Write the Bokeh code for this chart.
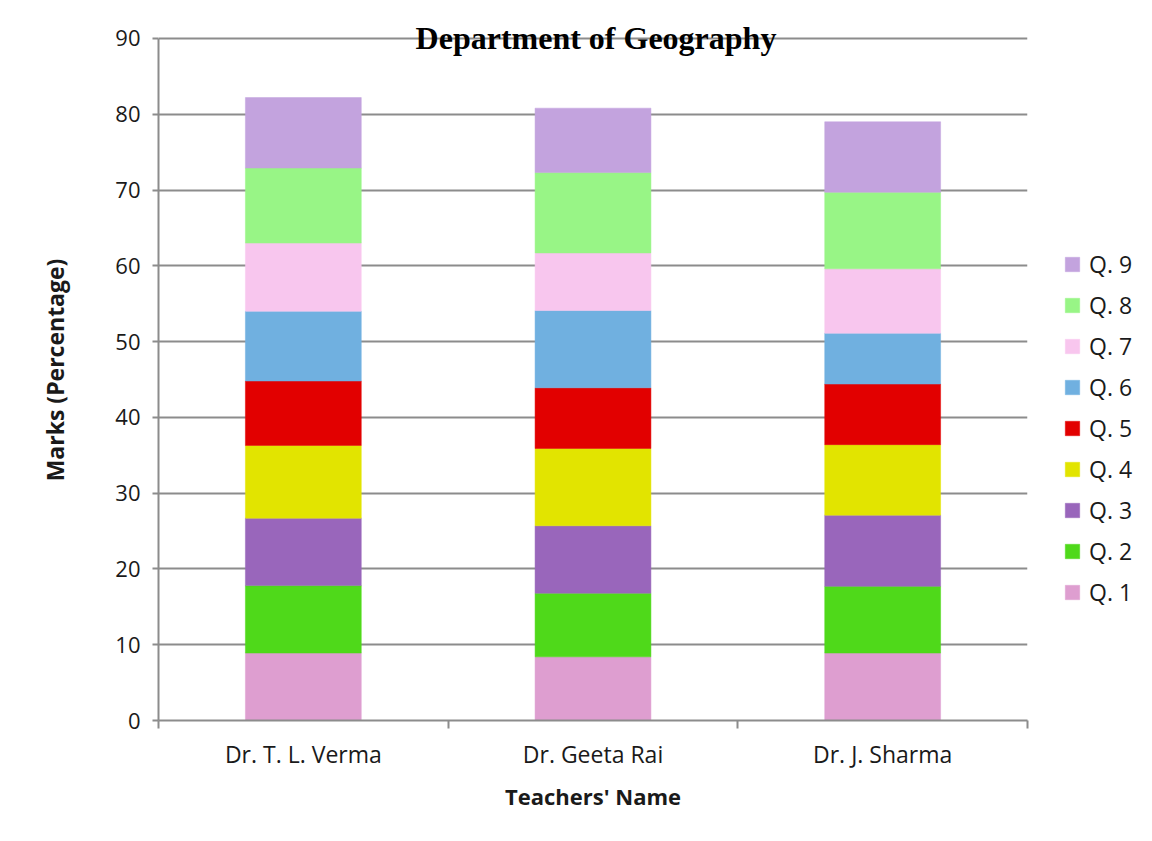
from bokeh.plotting import figure
from bokeh.models import Range1d, FixedTicker, Legend, LegendItem, Label, ColumnDataSource
from bokeh.embed import file_html
from bokeh.resources import INLINE

teachers = ["Dr. T. L. Verma", "Dr. Geeta Rai", "Dr. J. Sharma"]
questions = ["Q. 1", "Q. 2", "Q. 3", "Q. 4", "Q. 5", "Q. 6", "Q. 7", "Q. 8", "Q. 9"]
q1 = [8.9, 8.4, 8.9]
q2 = [8.9, 8.4, 8.8]
q3 = [8.9, 8.9, 9.4]
q4 = [9.6, 10.2, 9.3]
q5 = [8.5, 8.0, 8.0]
q6 = [9.2, 10.2, 6.7]
q7 = [9.0, 7.6, 8.5]
q8 = [9.9, 10.6, 10.1]
q9 = [9.3, 8.5, 9.3]
y_ticks = [0, 10, 20, 30, 40, 50, 60, 70, 80, 90]
colors = ["#DE9ED0", "#4FD91A", "#9966BB", "#E2E400", "#E20000",
          "#70B0E0", "#F8C6EE", "#98F586", "#C3A3DE"]

series = [q1, q2, q3, q4, q5, q6, q7, q8, q9]
xs = [i + 0.5 for i in range(len(teachers))]
data = {"x": xs}
for q, s in zip(questions, series):
    data[q] = s
source = ColumnDataSource(data)

FONT = "Open Sans"
GRAY = "#8C8C8C"
TXT = "#1A1A1A"

p = figure(frame_width=869, frame_height=701,
           x_range=Range1d(0, len(teachers)), y_range=Range1d(0, 92.5),
           output_backend="svg", toolbar_location=None,
           min_border_left=158, min_border_top=19, min_border_bottom=100,
           min_border_right=10)
p.outline_line_color = None
p.background_fill_color = "white"

renderers = p.vbar_stack(questions, x="x", width=0.4, source=source,
                         color=colors, line_width=0.5)

# y axis
p.yaxis.bounds = (0, 90)
p.yaxis.ticker = FixedTicker(ticks=y_ticks, minor_ticks=[])
p.yaxis.axis_line_color = GRAY
p.yaxis.axis_line_width = 2
p.yaxis.major_tick_line_color = GRAY
p.yaxis.major_tick_line_width = 2
p.yaxis.major_tick_out = 6
p.yaxis.major_tick_in = 0
p.yaxis.minor_tick_line_color = None
p.yaxis.major_label_text_font = FONT
p.yaxis.major_label_text_font_size = "22px"
p.yaxis.major_label_text_color = TXT
p.yaxis.major_label_standoff = 12
p.yaxis.axis_label = "Marks (Percentage)"
p.yaxis.axis_label_text_font = FONT
p.yaxis.axis_label_text_font_style = "bold"
p.yaxis.axis_label_text_font_size = "23px"
p.yaxis.axis_label_text_color = TXT
p.yaxis.axis_label_standoff = 41

# x axis
p.xaxis.ticker = FixedTicker(ticks=xs, minor_ticks=[float(i) for i in range(len(teachers) + 1)])
p.xaxis.major_label_overrides = {x: t for x, t in zip(xs, teachers)}
p.xaxis.axis_line_color = GRAY
p.xaxis.axis_line_width = 2
p.xaxis.major_tick_line_color = None
p.xaxis.major_tick_out = 0
p.xaxis.minor_tick_line_color = GRAY
p.xaxis.minor_tick_line_width = 2
p.xaxis.minor_tick_out = 8
p.xaxis.minor_tick_in = 0
p.xaxis.major_label_text_font = FONT
p.xaxis.major_label_text_font_size = "23px"
p.xaxis.major_label_text_color = TXT
p.xaxis.major_label_standoff = 9
p.xaxis.axis_label = "Teachers' Name"
p.xaxis.axis_label_text_font = FONT
p.xaxis.axis_label_text_font_style = "bold"
p.xaxis.axis_label_text_font_size = "22px"
p.xaxis.axis_label_text_color = TXT
p.xaxis.axis_label_standoff = 8

p.xgrid.grid_line_color = None
p.ygrid.ticker = FixedTicker(ticks=y_ticks)
p.ygrid.grid_line_color = GRAY
p.ygrid.grid_line_width = 2

items = [LegendItem(label=q, renderers=[r]) for q, r in zip(questions, renderers)][::-1]
legend = Legend(items=items, location=(36, 112), border_line_color=None,
                background_fill_alpha=0, label_text_font=FONT,
                label_text_font_size="23px", label_text_color=TXT,
                glyph_width=18, glyph_height=18, label_height=20,
                spacing=9, padding=0, margin=0, label_standoff=8)
p.add_layout(legend, "right")

title = Label(x=len(teachers) / 2, y=90, text="Department of Geography",
              text_align="center", text_baseline="middle",
              text_font="Liberation Serif", text_font_style="bold",
              text_font_size="32px", text_color="black", x_offset=3)
p.add_layout(title)

open("out.html", "w").write(file_html(p, INLINE))
